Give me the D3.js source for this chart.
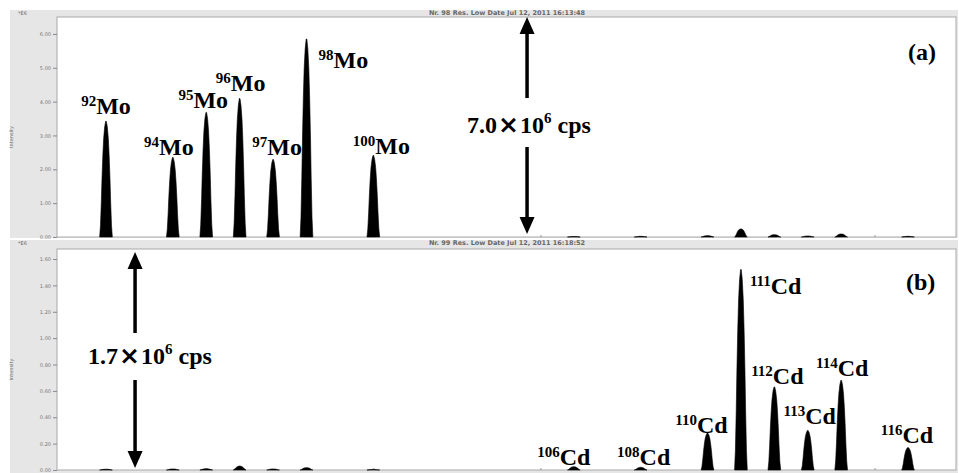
<!DOCTYPE html>
<html><head><meta charset="utf-8">
<script src="https://cdn.jsdelivr.net/npm/d3@7"></script>
<style>body{margin:0;background:#fff}svg{display:block}</style>
</head><body>
<svg id="chart" width="959" height="473"></svg>
<script>
// ---------- data (intensity in units of 10^6 cps) ----------
const massDomain = [90.534, 117.436];
const masses     = [92, 94, 95, 96, 97, 98, 100, 106, 108, 110, 111, 112, 113, 114, 116];
const intensityA = [3.42, 2.35, 3.68, 4.09, 2.29, 5.85, 2.41, 0.015, 0.02, 0.04, 0.24, 0.07, 0.03, 0.09, 0.02];
const intensityB = [0.006, 0.008, 0.01, 0.03, 0.008, 0.018, 0.004, 0.025, 0.02, 0.28, 1.52, 0.63, 0.30, 0.68, 0.17];
const yMaxA = 6.5, yMaxB = 1.676;
const ticksA = [0, 1, 2, 3, 4, 5, 6];
const ticksB = [0, 0.2, 0.4, 0.6, 0.8, 1.0, 1.2, 1.4, 1.6];
const massTicks = [95, 100, 105, 110, 115];
const labelMassA = [92, 94, 95, 96, 97, 98, 100];
const labelIsoA  = ["92", "94", "95", "96", "97", "98", "100"];
const labelElA   = "Mo";
const labelMassB = [106, 108, 110, 111, 112, 113, 114, 116];
const labelIsoB  = ["106", "108", "110", "111", "112", "113", "114", "116"];
const labelElB   = "Cd";
const headerA = "Nr. 98  Res. Low  Date Jul 12, 2011 16:13:48";
const headerB = "Nr. 99  Res. Low  Date Jul 12, 2011 16:18:52";
const scaleTextA = ["7.0", "10", "6", " cps"];
const scaleTextB = ["1.7", "10", "6", " cps"];

// ---------- layout ----------
const svg = d3.select("#chart");
const font = "'Liberation Serif','Times New Roman',serif";
const plotLeft = 57, plotRight = 956;
const panels = [
  {outerTop: 10, outerBottom: 238, top: 17, bottom: 237, yMax: yMaxA, ticks: ticksA, vals: intensityA,
   header: headerA, tag: "(a)", tagPos: [908, 60],
   lMass: labelMassA, lIso: labelIsoA, lEl: labelElA,
   lOff: [[0, -7, "middle"], [-4, -2, "middle"], [-3, -4, "middle"], [1, -8, "middle"], [4, -4, "middle"], [12, 29, "start"], [8, -1, "middle"]],
   arrowMass: 104.6, arrow: [17, 98, 147, 234], scaleText: scaleTextA, scaleTextPos: [529, 133]},
  {outerTop: 240, outerBottom: 473, top: 249, bottom: 470, yMax: yMaxB, ticks: ticksB, vals: intensityB,
   header: headerB, tag: "(b)", tagPos: [906, 290],
   lMass: labelMassB, lIso: labelIsoB, lEl: labelElB,
   lOff: [[-10, -2, "middle"], [3, -2, "middle"], [-6, 0, "middle"], [9, 24, "start"], [3, -3, "middle"], [2, -6, "middle"], [1, -4, "middle"], [-1, -5, "middle"]],
   arrowMass: 92.87, arrow: [252, 333, 380, 468], scaleText: scaleTextB, scaleTextPos: [150, 364]}
];

const x = d3.scaleLinear().domain(massDomain).range([plotLeft, plotRight]);
// peak shape: [fraction of height, half-width in amu]
const profile = [[0, 0.19], [0.1, 0.165], [0.3, 0.14], [0.5, 0.12], [0.7, 0.095], [0.85, 0.07], [0.95, 0.04], [1, 0.01]];

panels.forEach(p => {
  const y = d3.scaleLinear().domain([0, p.yMax]).range([p.bottom, p.top]);
  const g = svg.append("g");
  g.append("rect").attr("x", 10).attr("y", p.outerTop).attr("width", 948).attr("height", p.outerBottom - p.outerTop)
    .attr("fill", "#e6e6e6");
  g.append("rect").attr("x", plotLeft).attr("y", p.top).attr("width", plotRight - plotLeft).attr("height", p.bottom - p.top)
    .attr("fill", "#fff").attr("stroke", "#a8a8a8").attr("stroke-width", 1);
  g.append("text").attr("x", 507).attr("y", p.outerTop + 5).attr("text-anchor", "middle")
    .attr("font-family", "'DejaVu Sans',sans-serif").attr("font-size", 6.5).attr("font-weight", "bold").attr("fill", "#666")
    .text(p.header);
  g.append("text").attr("x", 18).attr("y", p.outerTop + 5).attr("font-family", "'DejaVu Sans',sans-serif")
    .attr("font-size", 5).attr("fill", "#666").text("*E6");
  g.append("text").attr("transform", `translate(13,${(p.top + p.bottom) / 2 + 10}) rotate(-90)`).attr("text-anchor", "middle")
    .attr("font-family", "'DejaVu Sans',sans-serif").attr("font-size", 5).attr("fill", "#666").text("Intensity");

  const ax = g.append("g").attr("transform", `translate(${plotLeft},0)`)
    .call(d3.axisLeft(y).tickValues(p.ticks).tickSize(4).tickPadding(2).tickFormat(d3.format(".2f")));
  ax.select(".domain").remove();
  ax.selectAll("line").attr("stroke", "#888");
  ax.selectAll("text").attr("font-family", "'DejaVu Sans',sans-serif").attr("font-size", 5).attr("fill", "#777");
  const bx = g.append("g").attr("transform", `translate(0,${p.bottom})`)
    .call(d3.axisBottom(x).tickValues(massTicks).tickSize(-2).tickFormat(""));
  bx.select(".domain").remove();
  bx.selectAll("line").attr("stroke", "#999");

  const line = d3.line().x(d => x(d[0])).y(d => y(d[1]));
  masses.forEach((m, i) => {
    const h = p.vals[i];
    const left = profile.map(([f, w]) => [m - w, h * f]);
    const right = profile.slice().reverse().map(([f, w]) => [m + w, h * f]);
    g.append("path").attr("d", line(left.concat(right)) + "Z").attr("fill", "#000")
      .attr("stroke", "#000").attr("stroke-width", 0.6).attr("stroke-linejoin", "round");
  });

  p.lMass.forEach((m, i) => {
    const idx = masses.indexOf(m);
    const o = p.lOff[i];
    const t = g.append("text").attr("x", x(m) + o[0]).attr("y", y(p.vals[idx]) + o[1])
      .attr("text-anchor", o[2]).attr("font-family", font).attr("font-weight", "bold").attr("fill", "#000");
    t.append("tspan").attr("font-size", 15).attr("dy", -8).text(p.lIso[i]);
    t.append("tspan").attr("font-size", 24).attr("dy", 8).text(p.lEl);
  });

  g.append("text").attr("x", p.tagPos[0]).attr("y", p.tagPos[1]).attr("font-family", font)
    .attr("font-weight", "bold").attr("font-size", 24).text(p.tag);

  const ax0 = x(p.arrowMass);
  const [t0, t1, b0, b1] = p.arrow;
  g.append("line").attr("x1", ax0).attr("x2", ax0).attr("y1", t0 + 12).attr("y2", t1).attr("stroke", "#000").attr("stroke-width", 3.5);
  g.append("line").attr("x1", ax0).attr("x2", ax0).attr("y1", b0).attr("y2", b1 - 12).attr("stroke", "#000").attr("stroke-width", 3.5);
  g.append("path").attr("d", `M${ax0},${t0} L${ax0 - 7.5},${t0 + 17} L${ax0 + 7.5},${t0 + 17} Z`).attr("fill", "#000");
  g.append("path").attr("d", `M${ax0},${b1} L${ax0 - 7.5},${b1 - 17} L${ax0 + 7.5},${b1 - 17} Z`).attr("fill", "#000");
  const st = g.append("text").attr("x", p.scaleTextPos[0]).attr("y", p.scaleTextPos[1]).attr("text-anchor", "middle")
    .attr("font-family", font).attr("font-weight", "bold").attr("font-size", 24);
  st.append("tspan").text(p.scaleText[0]);
  st.append("tspan").attr("font-family", "'DejaVu Sans',sans-serif").attr("font-size", 25).attr("dx", 1).text("\u00D7");
  st.append("tspan").attr("dx", 1).text(p.scaleText[1]);
  st.append("tspan").attr("font-size", 15).attr("dy", -10).text(p.scaleText[2]);
  st.append("tspan").attr("dy", 10).text(p.scaleText[3]);
});
</script>
</body></html>
